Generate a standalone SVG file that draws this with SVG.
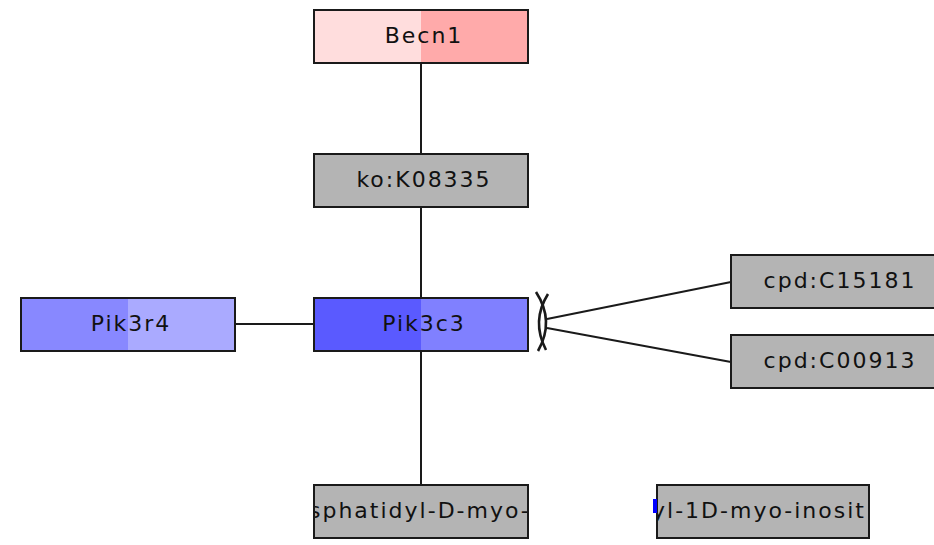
<svg xmlns="http://www.w3.org/2000/svg" width="934" height="545" viewBox="0 0 934 545">
<style>
.box{stroke:#1a1a1a;stroke-width:2}
.lbl{font-family:"DejaVu Sans",sans-serif;font-size:22px;letter-spacing:2px;fill:#111}
.c{text-anchor:middle}
.edge{stroke:#1a1a1a;stroke-width:2;fill:none}
.mark{stroke:#1a1a1a;stroke-width:2.6;fill:none}
</style>
<defs>
<clipPath id="clipA"><rect x="315" y="486" width="212" height="51"/></clipPath>
<clipPath id="clipB"><rect x="658" y="486" width="210" height="51"/></clipPath>
</defs>
<rect width="934" height="545" fill="#fff"/>
<g id="connectors">
<line class="edge" x1="421" y1="63" x2="421" y2="154"/>
<line class="edge" x1="421" y1="207" x2="421" y2="298"/>
<line class="edge" x1="421" y1="351" x2="421" y2="485"/>
<line class="edge" x1="235" y1="324" x2="314" y2="324"/>
<line class="edge" x1="547" y1="319" x2="731" y2="282"/>
<line class="edge" x1="547" y1="328" x2="731" y2="362"/>
<path class="mark" d="M536,292 Q555,321 538,351"/>
<path class="mark" d="M548,294 Q531,321 546,350"/>
</g>
<g id="Becn1">
<rect x="314" y="10" width="107" height="53" fill="#ffdddd"/>
<rect x="421" y="10" width="107" height="53" fill="#ffaaaa"/>
<rect class="box" x="314" y="10" width="214" height="53" fill="none"/>
<text class="lbl c" x="424" y="43">Becn1</text>
</g>
<g id="ko_K08335">
<rect class="box" x="314" y="154" width="214" height="53" fill="#b4b4b4"/>
<text class="lbl c" x="424" y="187">ko:K08335</text>
</g>
<g id="Pik3r4">
<rect x="21" y="298" width="107" height="53" fill="#8888ff"/>
<rect x="128" y="298" width="107" height="53" fill="#aaaaff"/>
<rect class="box" x="21" y="298" width="214" height="53" fill="none"/>
<text class="lbl c" x="131" y="331">Pik3r4</text>
</g>
<g id="Pik3c3">
<rect x="314" y="298" width="107" height="53" fill="#5a5aff"/>
<rect x="421" y="298" width="107" height="53" fill="#8080ff"/>
<rect class="box" x="314" y="298" width="214" height="53" fill="none"/>
<text class="lbl c" x="424" y="331">Pik3c3</text>
</g>
<g id="cpd_C15181">
<rect class="box" x="731" y="255" width="214" height="53" fill="#b4b4b4"/>
<text class="lbl c" x="840" y="288">cpd:C15181</text>
</g>
<g id="cpd_C00913">
<rect class="box" x="731" y="335" width="214" height="53" fill="#b4b4b4"/>
<text class="lbl c" x="840" y="368">cpd:C00913</text>
</g>
<g id="cpd_bottom1">
<rect class="box" x="314" y="485" width="214" height="53" fill="#b4b4b4"/>
<text class="lbl" x="309" y="518" clip-path="url(#clipA)">sphatidyl-D-myo-</text>
</g>
<g id="cpd_bottom2">
<rect class="box" x="657" y="485" width="212" height="53" fill="#b4b4b4"/>
<rect x="653" y="499" width="4" height="14" fill="#0000ff"/>
<text class="lbl" x="652" y="518" clip-path="url(#clipB)">yl-1D-myo-inosit</text>
</g>
</svg>
